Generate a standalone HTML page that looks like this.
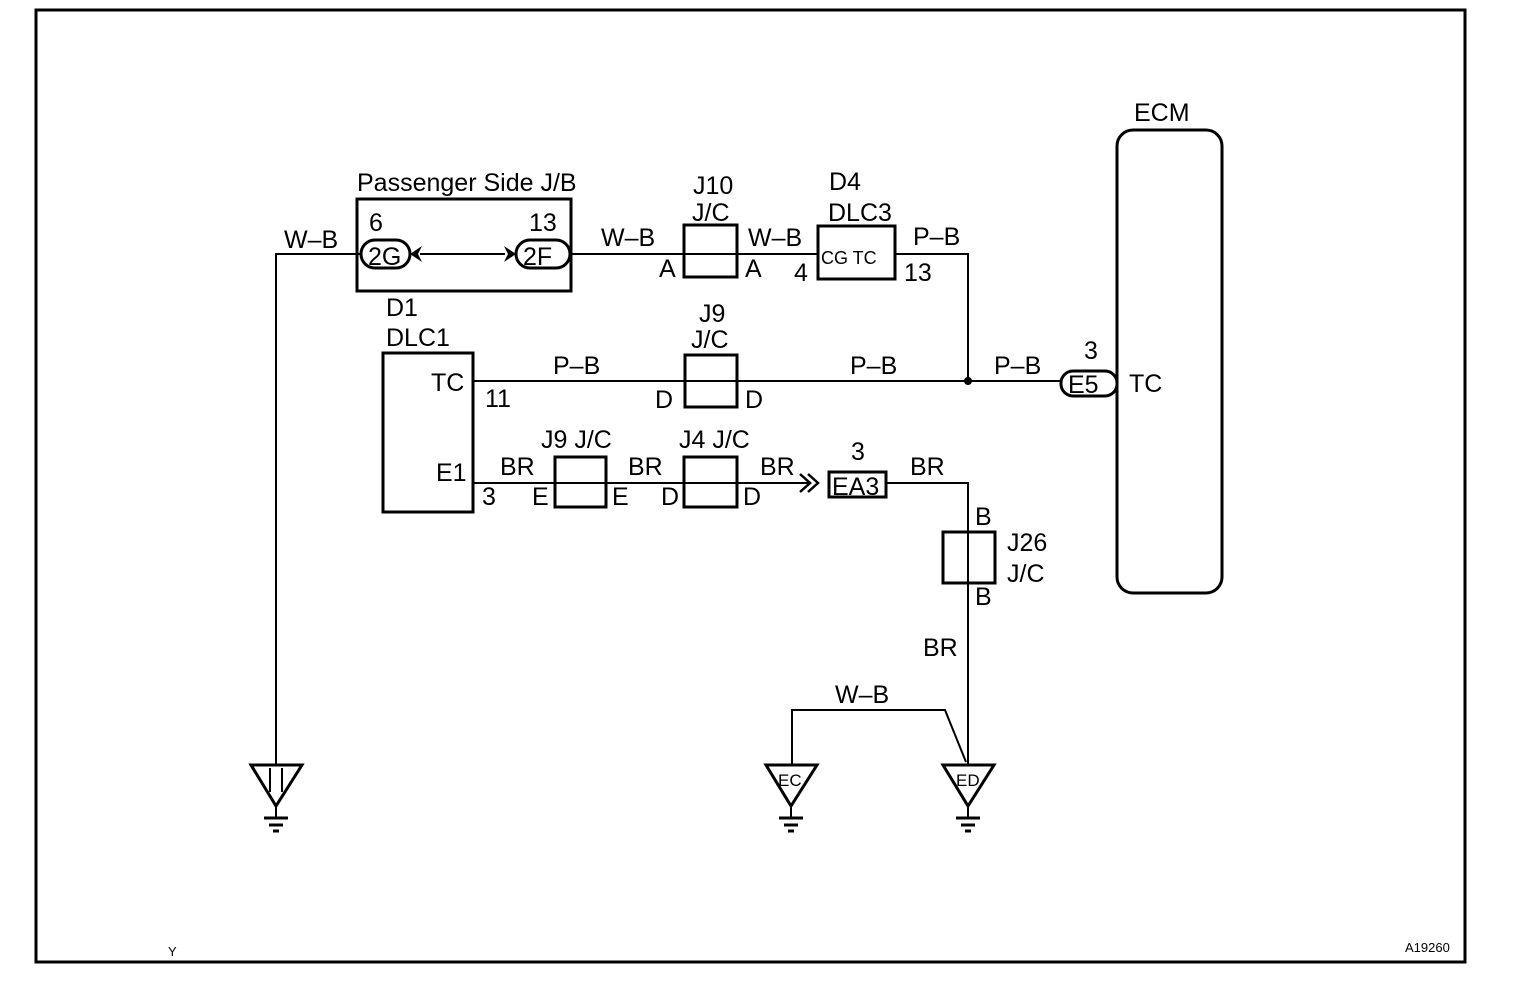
<!DOCTYPE html>
<html><head><style>body{margin:0;background:#fff}svg{display:block}</style></head><body>
<svg width="1520" height="1004" viewBox="0 0 1520 1004" xmlns="http://www.w3.org/2000/svg" font-family="Liberation Sans, sans-serif" font-size="25" fill="#000">
<rect x="36" y="10" width="1429" height="952" fill="none" stroke="#000" stroke-width="3"/>
<g fill="none" stroke="#000" stroke-width="2">
<polyline points="360,254 276,254 276,765"/>
<line x1="420" y1="254" x2="505" y2="254"/>
<line x1="570" y1="254" x2="818" y2="254"/>
<polyline points="895,254 968,254 968,381"/>
<line x1="473" y1="381" x2="1061" y2="381"/>
<line x1="473" y1="483" x2="810" y2="483"/>
<polyline points="886,483 968,483 968,764"/>
<polyline points="792,764 792,710 945,710 966,762"/>
</g>
<circle cx="968" cy="381" r="4"/>
<g fill="none" stroke="#000" stroke-width="3">
<rect x="357" y="199" width="214" height="92"/>
<rect x="361" y="240" width="49" height="28" rx="14"/>
<rect x="516" y="240" width="54" height="28" rx="14"/>
<rect x="684" y="225" width="53" height="52"/>
<rect x="818" y="226" width="77" height="53"/>
<rect x="685" y="355" width="52" height="52"/>
<rect x="383" y="353" width="90" height="159"/>
<rect x="555" y="457" width="51" height="50"/>
<rect x="684" y="457" width="53" height="50"/>
<rect x="829" y="472" width="57" height="25"/>
<rect x="943" y="532" width="52" height="51"/>
<rect x="1117" y="130" width="105" height="463" rx="16"/>
<rect x="1061" y="371" width="56" height="25" rx="12"/>
<polygon points="251,765 302,765 276,806"/>
<polygon points="766,765 817,765 791,806"/>
<polygon points="943,765 994,765 968,806"/>
</g>
<g stroke="#000" stroke-width="2">
<line x1="276" y1="806" x2="276" y2="817"/><line x1="791" y1="806" x2="791" y2="817"/><line x1="968" y1="806" x2="968" y2="817"/>
<line x1="685" y1="254" x2="737" y2="254"/>
<line x1="555" y1="483" x2="606" y2="483"/>
<line x1="684" y1="483" x2="737" y2="483"/>
<polyline points="800,474 810,483 800,492" fill="none" stroke-width="2.5"/>
<polyline points="808,474 818,483 808,492" fill="none" stroke-width="2.5"/>
<line x1="270" y1="768" x2="270" y2="792"/><line x1="282" y1="768" x2="282" y2="792"/>
</g>
<g stroke="#000" stroke-width="3">
<line x1="264" y1="818" x2="288" y2="818"/><line x1="269" y1="825" x2="283" y2="825"/><line x1="273" y1="831" x2="279" y2="831"/>
<line x1="779" y1="818" x2="803" y2="818"/><line x1="784" y1="825" x2="798" y2="825"/><line x1="788" y1="831" x2="794" y2="831"/>
<line x1="956" y1="818" x2="980" y2="818"/><line x1="961" y1="825" x2="975" y2="825"/><line x1="965" y1="831" x2="971" y2="831"/>
</g>
<polygon points="410,254 422,246 418,254 422,262"/>
<polygon points="516,254 504,246 508,254 504,262"/>
<text x="357" y="191">Passenger Side J/B</text>
<text x="369" y="231">6</text><text x="529" y="231">13</text>
<text x="368" y="265">2G</text><text x="523" y="265">2F</text>
<text x="284" y="248">W–B</text>
<text x="601" y="246">W–B</text>
<text x="693" y="194">J10</text><text x="692" y="221">J/C</text>
<text x="659" y="277">A</text><text x="745" y="277">A</text>
<text x="748" y="246">W–B</text>
<text x="829" y="190">D4</text><text x="828" y="221">DLC3</text>
<text x="821" y="264" font-size="18">CG TC</text>
<text x="794" y="281">4</text><text x="904" y="281">13</text>
<text x="913" y="245">P–B</text>
<text x="386" y="316">D1</text><text x="386" y="346">DLC1</text>
<text x="431" y="391">TC</text><text x="485" y="407">11</text>
<text x="553" y="374">P–B</text>
<text x="699" y="322">J9</text><text x="691" y="348">J/C</text>
<text x="655" y="408">D</text><text x="745" y="408">D</text>
<text x="850" y="374">P–B</text>
<text x="994" y="374">P–B</text>
<text x="1084" y="359">3</text>
<text x="1068" y="393">E5</text>
<text x="1129" y="392">TC</text>
<text x="1134" y="121">ECM</text>
<text x="436" y="481">E1</text><text x="482" y="505">3</text>
<text x="500" y="475">BR</text>
<text x="541" y="448">J9 J/C</text>
<text x="532" y="505">E</text><text x="612" y="505">E</text>
<text x="628" y="475">BR</text>
<text x="679" y="448">J4 J/C</text>
<text x="661" y="505">D</text><text x="743" y="505">D</text>
<text x="760" y="475">BR</text>
<text x="851" y="460">3</text>
<text x="832" y="495">EA3</text>
<text x="910" y="475">BR</text>
<text x="975" y="525">B</text>
<text x="1007" y="551">J26</text><text x="1007" y="582">J/C</text>
<text x="975" y="605">B</text>
<text x="923" y="656">BR</text>
<text x="835" y="703">W–B</text>
<text x="778" y="786" font-size="17">EC</text>
<text x="956" y="786" font-size="17">ED</text>
<text x="168" y="956" font-size="13">Y</text>
<text x="1405" y="952" font-size="13">A19260</text>
</svg>
</body></html>
